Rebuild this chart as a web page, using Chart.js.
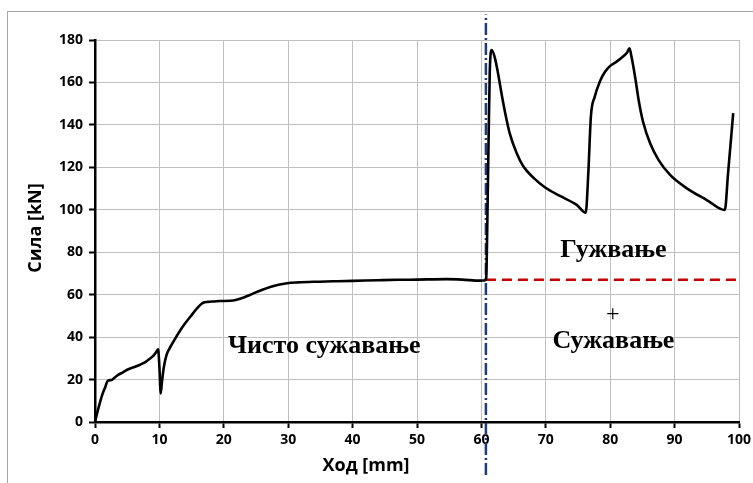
<!DOCTYPE html>
<html>
<head>
<meta charset="utf-8">
<script src="https://cdn.jsdelivr.net/npm/chart.js@4.4.1/dist/chart.umd.min.js"></script>
<style>
  body { margin: 0; background: #fff; }
  #wrap { position: relative; width: 753px; height: 483px; }
  #frame { position: absolute; left: 7px; top: 11px; right: -5px; bottom: -5px;
           border-top: 1px solid #a6a6a6; border-left: 1px solid #a6a6a6; }
  canvas { position: absolute; left: 0; top: 0; }
</style>
</head>
<body>
<div id="wrap">
  <div id="frame"></div>
  <canvas id="myChart" width="753" height="483"></canvas>
</div>
<script>
// stroke [mm] and force [kN]
const stroke = [0, 0.4, 0.8, 1.2, 1.6, 2.0, 2.6, 3.0, 3.6, 4.2, 5.0, 6.0, 7.0, 7.8, 8.5, 9.0, 9.4, 9.8,
  10.0, 10.2, 10.4, 10.7, 11.1, 11.6, 12.2, 13.2, 14.0, 14.8, 15.8, 16.4, 16.8, 17.5, 18.5, 19.5,
  21.0, 22.0, 23.2, 24.6, 26.0, 27.2, 28.5, 29.8, 31.5, 33.9, 37, 40, 44, 47, 50, 54.6, 57, 59.8,
  60.5, 60.75, 60.9, 61.1, 61.3, 61.6, 62.1, 62.6, 63.2, 63.7, 64.4, 65.5, 66.5, 68.1, 69.9, 72.2,
  74.8, 76.2, 76.6, 77.0, 77.6, 78.4, 79.2, 80.0, 81.0, 82.0, 82.6, 83.0, 83.3, 83.9, 84.4, 85.1,
  86.2, 87.5, 89.3, 91.9, 95.0, 97.8, 98.3, 99.1];
const force = [0, 5, 9.5, 13.5, 16.5, 19.5, 19.8, 20.8, 22.2, 23.2, 24.6, 25.8, 27, 28.2, 29.8, 31, 32.5, 34.2,
  26, 13.5, 19, 26, 31.5, 34.8, 38, 43, 46.5, 49.6, 53.4, 55.3, 56.2, 56.6, 56.8, 57,
  57.1, 57.6, 58.8, 60.6, 62.3, 63.6, 64.7, 65.4, 65.8, 66.1, 66.3, 66.5, 66.8, 67, 67.1, 67.3, 67.1, 66.6,
  66.7, 68, 90, 130, 165, 175.3, 171.5, 164, 153.5, 145.5, 136, 126.5, 120.5, 115, 110.5, 106.5,
  102.3, 98.6, 117.2, 143.9, 153.3, 160.5, 165, 167.8, 169.8, 172.2, 174, 176.1, 172.2, 162, 152, 141.5,
  131.3, 123.5, 116.4, 110.1, 104.6, 99.9, 117.2, 145.5];

const splitX = 60.7;
const levelY = 67;
const vertY = [-25, 192];

const xTitle = 'Ход [mm]';
const yTitle = 'Сила [kN]';
const labels = [
  { text: 'Чисто сужавање', x: 35.6, y: 32.5 },
  { text: 'Гужвање', x: 80.5, y: 77.9 },
  { text: '+', x: 80.4, y: 50.5 },
  { text: 'Сужавање', x: 80.5, y: 34.7 }
];

const curve = stroke.map((x, i) => ({ x: x, y: force[i] }));

const textPlugin = {
  id: 'texts',
  afterDatasetsDraw(chart) {
    const c = chart.ctx;
    const xs = chart.scales.x, ys = chart.scales.y;
    c.save();
    c.fillStyle = '#000';
    c.textAlign = 'center';
    labels.forEach(l => {
      if (l.text === '+') {
        c.font = '24px "Liberation Serif", serif';
        c.textBaseline = 'middle';
      } else {
        c.font = 'bold 26px "Liberation Serif", serif';
        c.textBaseline = 'alphabetic';
      }
      c.fillText(l.text, xs.getPixelForValue(l.x), ys.getPixelForValue(l.y));
    });
    c.font = 'bold 18px "Open Sans", sans-serif';
    c.textBaseline = 'alphabetic';
    c.fillText(xTitle, 366, 471);
    c.translate(41, 228);
    c.rotate(-Math.PI / 2);
    c.fillText(yTitle, 0, 0);
    c.restore();
  }
};

const ctx = document.getElementById('myChart').getContext('2d');
const forceChart = new Chart(ctx, {
  type: 'scatter',
  data: {
    datasets: [
      {
        label: 'Сила',
        data: curve,
        showLine: true,
        borderColor: '#000',
        borderWidth: 2.6,
        pointRadius: 0,
        cubicInterpolationMode: 'monotone'
      },
      {
        label: 'level',
        data: [{ x: splitX, y: levelY }, { x: 100, y: levelY }],
        showLine: true,
        borderColor: '#c00000',
        borderWidth: 2.5,
        borderDash: [10, 6],
        pointRadius: 0
      },
      {
        label: 'split',
        data: [{ x: splitX, y: vertY[0] }, { x: splitX, y: vertY[1] }],
        showLine: true,
        borderColor: '#1f3c78',
        borderWidth: 2.5,
        borderDash: [12, 3, 2, 3],
        pointRadius: 0,
        clip: false
      }
    ]
  },
  options: {
    responsive: false,
    animation: false,
    layout: { padding: { top: 40, right: 14, left: 0, bottom: 0 } },
    plugins: { legend: { display: false }, tooltip: { enabled: false } },
    scales: {
      x: {
        type: 'linear',
        min: 0,
        max: 100,
        ticks: { stepSize: 10, color: '#000', padding: 4,
                 font: { family: '"Open Sans", sans-serif', size: 14, weight: 'bold' } },
        grid: { color: '#bfbfbf', lineWidth: 1, tickColor: '#000', tickLength: 6, tickWidth: 2 },
        border: { color: '#000', width: 2.5 },
        afterFit(scale) { scale.height = 61; scale.paddingRight = 0; }
      },
      y: {
        min: 0,
        max: 180,
        ticks: { stepSize: 20, color: '#000', padding: 6,
                 font: { family: '"Open Sans", sans-serif', size: 14, weight: 'bold' } },
        grid: { color: '#bfbfbf', lineWidth: 1, tickColor: '#000', tickLength: 6, tickWidth: 2 },
        border: { color: '#000', width: 2.5 },
        afterFit(scale) { scale.width = 95; scale.paddingTop = 0; scale.paddingBottom = 0; }
      }
    }
  },
  plugins: [textPlugin]
});
</script>
</body>
</html>
